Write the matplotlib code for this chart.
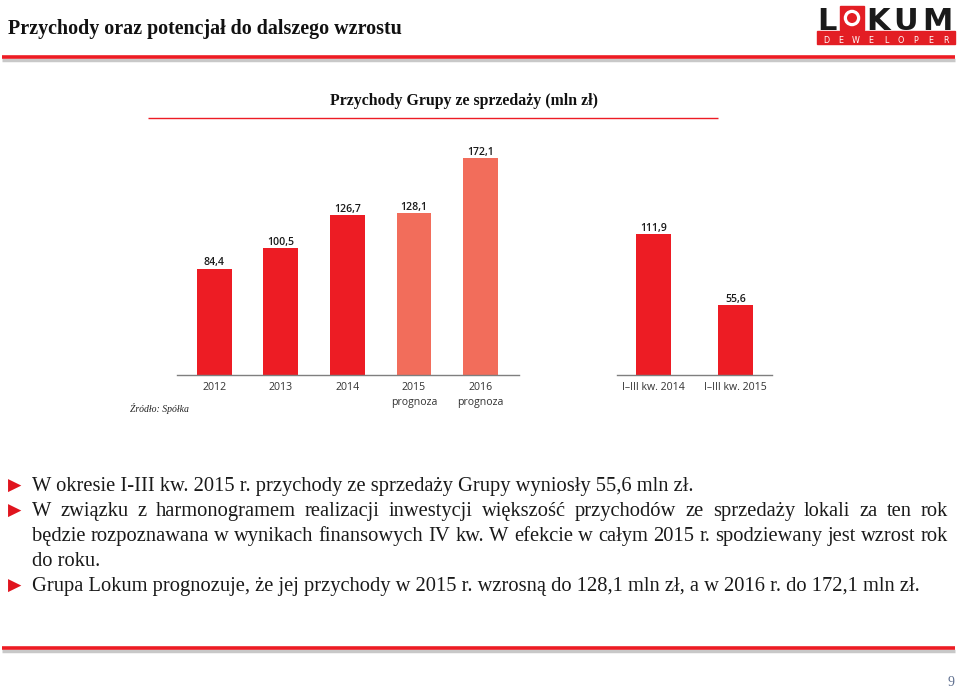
import matplotlib.pyplot as plt
from matplotlib.lines import Line2D
from matplotlib.patches import Rectangle, Ellipse

W, H = 960, 690

years = ["2012", "2013", "2014", "2015\nprognoza", "2016\nprognoza"]
year_vals = [84.4, 100.5, 126.7, 128.1, 172.1]
is_forecast = [False, False, False, True, True]
quarters = ["I–III kw. 2014", "I–III kw. 2015"]
quarter_vals = [111.9, 55.6]

RED = "#ed1c24"
SALMON = "#f26d5b"
DARK = "#1a1a1a"
SERIF = "Liberation Serif"
SANS = "Open Sans"

# each bullet as its lines (line breaks as on the slide)
bullets = [
    ["W okresie I-III kw. 2015 r. przychody ze sprzedaży Grupy wyniosły 55,6 mln zł."],
    ["W związku z harmonogramem realizacji inwestycji większość przychodów ze sprzedaży lokali za ten rok",
     "będzie rozpoznawana w wynikach finansowych IV kw. W efekcie w całym 2015 r. spodziewany jest wzrost rok",
     "do roku."],
    ["Grupa Lokum prognozuje, że jej przychody w 2015 r. wzrosną do 128,1 mln zł, a w 2016 r. do 172,1 mln zł."],
]


def fx(x):
    return x / W


def fy(y):
    return 1 - y / H


fig = plt.figure(figsize=(W / 100, H / 100), dpi=100)
fig.patch.set_facecolor("white")
renderer = fig.canvas.get_renderer()


def hline(x0, x1, y, color, lw):
    fig.add_artist(Line2D([fx(x0), fx(x1)], [fy(y), fy(y)], color=color, lw=lw,
                          transform=fig.transFigure, solid_capstyle="butt"))


# header
fig.text(fx(8), fy(29), "Przychody oraz potencjał do dalszego wzrostu", family=SERIF,
         fontsize=14.4, fontweight="bold", va="center", color="#111111")
hline(2, 955, 59.5, "#c8c8c8", 2.5)
hline(2, 955, 57, RED, 2.6)
hline(2, 955, 650.5, "#c8c8c8", 2.5)
hline(2, 955, 648, RED, 2.6)

# logo
logo_bottom = 0
for ch, x in [("L", 817), ("K", 866), ("U", 893), ("M", 922)]:
    t = fig.text(fx(x), fy(29.5), ch, family="DejaVu Sans", fontweight="bold", fontsize=22,
                 color="#1a1a1a", va="baseline", ha="left")
    logo_bottom = max(logo_bottom, H - t.get_window_extent(renderer).y0)
fig.add_artist(Rectangle((fx(840), fy(30)), fx(24), 24 / H, color="#e31e24",
                         transform=fig.transFigure))
fig.add_artist(Ellipse((fx(852), fy(18)), fx(16.5), 16.5 / H, facecolor="white",
                       edgecolor="none", transform=fig.transFigure))
fig.add_artist(Ellipse((fx(852), fy(18)), fx(10), 10 / H, facecolor="#e31e24",
                       edgecolor="none", transform=fig.transFigure))
fig.add_artist(Rectangle((fx(817), fy(44)), fx(138), 13 / H, color="#e31e24",
                         transform=fig.transFigure))
probe = fig.text(0, 0, "D", family="DejaVu Sans", fontsize=5.8, va="top")
band_top = max(logo_bottom + 0.3, 35)
for i, ch in enumerate("DEWELOPER"):
    fig.text(fx(826 + 15 * i), fy(band_top), ch, family="DejaVu Sans", fontsize=5.8,
             color="white", va="top", ha="center")
probe.remove()

# chart title
fig.text(fx(464), fy(101), "Przychody Grupy ze sprzedaży (mln zł)", family=SERIF,
         fontsize=11.4, fontweight="bold", ha="center", va="center", color="#111111")
hline(148, 718, 118, RED, 1.0)

Y_MAX = 190
px_per_unit = 1.261
ax_h = Y_MAX * px_per_unit


def setup(ax):
    ax.set_ylim(0, Y_MAX)
    for s in ["top", "right", "left"]:
        ax.spines[s].set_visible(False)
    ax.spines["bottom"].set_color("#7f7f7f")
    ax.spines["bottom"].set_linewidth(1.0)
    ax.set_yticks([])
    ax.tick_params(axis="x", length=0, pad=5, labelsize=7.6, labelcolor="#333333")
    for lab in ax.get_xticklabels():
        lab.set_family(SANS)
    ax.patch.set_visible(False)


def value_labels(ax, bars, vals):
    for b, v in zip(bars, vals):
        ax.annotate(f"{v:.1f}".replace(".", ","), (b.get_x() + b.get_width() / 2, v),
                    xytext=(0, 2.4), textcoords="offset points", ha="center", va="baseline",
                    fontsize=7.6, family=SANS, fontweight="semibold", color=DARK)


# annual bars
ax1 = fig.add_axes([fx(177), fy(375), fx(519 - 177), ax_h / H])
pos = list(range(len(years)))
colors = [SALMON if f else RED for f in is_forecast]
bars = ax1.bar(pos, year_vals, width=0.52, color=colors, edgecolor="none")
ax1.set_xlim(-0.56, 4.58)
ax1.set_xticks(pos)
ax1.set_xticklabels(years, linespacing=1.45)
value_labels(ax1, bars, year_vals)
setup(ax1)

# quarterly bars
ax2 = fig.add_axes([fx(617), fy(375), fx(772 - 617), ax_h / H])
qpos = list(range(len(quarters)))
qbars = ax2.bar(qpos, quarter_vals, width=0.43, color=RED, edgecolor="none")
ax2.set_xlim(-0.45, 1.45)
ax2.set_xticks(qpos)
ax2.set_xticklabels(quarters)
value_labels(ax2, qbars, quarter_vals)
setup(ax2)

fig.text(fx(130), fy(408), "Źródło: Spółka", family=SERIF, style="italic", fontsize=7,
         va="center", color="#222222")

# bullets, justified except last line of a paragraph
BODY = 14.8
left, right = 32, 948
line_h = 25
y = 491  # baseline of first line


def width_px(s):
    t = fig.text(0, 0, s, family=SERIF, fontsize=BODY)
    w = t.get_window_extent(renderer).width
    t.remove()
    return w


for para in bullets:
    fig.text(fx(8), fy(y - 5), "▶", family="DejaVu Sans", fontsize=12.5, color="#e0141e",
             va="center", ha="left")
    for i, ln in enumerate(para):
        words = ln.split()
        if i == len(para) - 1:
            fig.text(fx(left), fy(y), ln, family=SERIF, fontsize=BODY,
                     va="baseline", ha="left", color="#1a1a1a")
        else:
            ws = [width_px(w) for w in words]
            gap = (right - left - sum(ws)) / (len(words) - 1)
            x = left
            for w, wd in zip(words, ws):
                fig.text(fx(x), fy(y), w, family=SERIF, fontsize=BODY, va="baseline",
                         ha="left", color="#1a1a1a")
                x += wd + gap
        y += line_h

fig.text(fx(951), fy(683), "9", family=SERIF, fontsize=10, color="#5f6f8f",
         ha="center", va="center")

fig.savefig("out.png", dpi=100)
